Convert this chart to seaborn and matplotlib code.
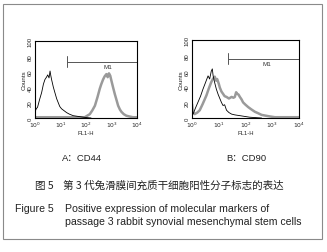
import numpy as np
import pandas as pd
import matplotlib
matplotlib.use("Agg")
import matplotlib.pyplot as plt
import seaborn as sns
from matplotlib.patches import Rectangle
from matplotlib.ticker import LogLocator, NullFormatter, MultipleLocator

sns.set_style("white")
plt.rcParams['font.family'] = ['Liberation Sans', 'Noto Sans CJK SC', 'DejaVu Sans']

# ---- data (log10 of FL1-H, counts) ----
a_iso_logx = [0.0, 0.05, 0.1, 0.18, 0.26, 0.33, 0.39, 0.45, 0.5, 0.55, 0.59, 0.62, 0.65, 0.72,
              0.78, 0.85, 0.91, 0.97, 1.04, 1.12, 1.24, 1.35, 1.5, 1.7, 1.9, 2.2]
a_iso_cnt = [8, 12, 14, 24, 33, 44, 50, 53, 56, 52, 61, 55, 50, 40, 33, 25, 20, 15, 12, 10, 7, 5,
             3, 2, 1, 0]
a_pos_logx = [0.0, 0.5, 1.0, 1.5, 1.95, 2.05, 2.15, 2.25, 2.35, 2.45, 2.54, 2.6, 2.67, 2.73, 2.8,
              2.85, 2.9, 2.95, 3.0, 3.06, 3.13, 3.2, 3.26, 3.33, 3.39, 3.48, 3.58, 3.7, 3.84, 4.0]
a_pos_cnt = [1, 1, 1, 1, 1, 3, 5, 10, 16, 27, 38, 44, 50, 54, 57, 53, 58, 55, 48, 40, 31, 23, 16,
             11, 8, 5, 3, 2, 1, 1]

b_iso_logx = [0.04, 0.12, 0.22, 0.32, 0.41, 0.5, 0.6, 0.66, 0.72, 0.76, 0.79, 0.85, 0.91, 0.98,
              1.04, 1.1, 1.16, 1.22, 1.29, 1.38, 1.48, 1.6, 1.79, 2.16, 2.6]
b_iso_cnt = [5, 12, 20, 28, 37, 45, 54, 50, 60, 63, 54, 45, 37, 30, 25, 20, 16, 17, 10, 7, 5, 4, 3,
             1, 0]
b_pos_logx = [0.0, 0.03, 0.1, 0.2, 0.29, 0.4, 0.54, 0.63, 0.72, 0.78, 0.85, 0.9, 0.94, 1.0, 1.04,
              1.1, 1.16, 1.22, 1.29, 1.38, 1.48, 1.55, 1.6, 1.65, 1.69, 1.74, 1.79, 1.85, 1.91,
              2.0, 2.1, 2.22, 2.35, 2.48, 2.6, 2.75, 2.91, 3.1, 3.41, 4.0]
b_pos_cnt = [18, 8, 5, 7, 10, 18, 29, 38, 46, 50, 53, 48, 50, 44, 39, 34, 31, 28, 27, 25, 27, 26,
             27, 33, 31, 30, 27, 24, 20, 17, 14, 11, 8, 6, 4, 3, 2, 1, 1, 1]

marker_a = (1.25, 4.0, 73)   # M1 gate: start, end (log10), height
marker_b = (1.35, 4.0, 76)
panel_labels = ["A：CD44", "B：CD90"]
x_ticks = [0, 1, 2, 3, 4]
y_ticks = [0, 20, 40, 60, 80, 100]

fig = plt.figure(figsize=(3.27, 2.53), dpi=100)
fig.patch.set_facecolor("white")
fig.patches.append(Rectangle((3 / 327, 1 - 240 / 253), 319 / 327, 235 / 253,
                             transform=fig.transFigure, fill=False,
                             edgecolor="#8a8a8a", linewidth=0.8))

def panel(rect, iso_x, iso_y, pos_x, pos_y, marker, label_x):
    ax = fig.add_axes(rect)
    df_iso = pd.DataFrame({"x": np.power(10.0, iso_x), "y": iso_y})
    df_pos = pd.DataFrame({"x": np.power(10.0, pos_x), "y": pos_y})
    sns.lineplot(data=df_pos, x="x", y="y", ax=ax, color="#9a9a9a", linewidth=1.8, sort=False)
    sns.lineplot(data=df_iso, x="x", y="y", ax=ax, color="black", linewidth=0.6, sort=False)
    ax.set_xscale("log")
    ax.set_xlim(1, 1e4)
    ax.set_ylim(0, 100)
    ax.set_xticks([10.0 ** t for t in x_ticks])
    ax.set_xticklabels([f"$10^{t}$" for t in x_ticks])
    ax.xaxis.set_minor_locator(LogLocator(base=10, subs=np.arange(2, 10)))
    ax.xaxis.set_minor_formatter(NullFormatter())
    ax.set_yticks(y_ticks)
    ax.yaxis.set_minor_locator(MultipleLocator(5))
    ax.tick_params(axis="both", which="major", direction="in", length=2.5, width=0.6,
                   labelsize=4.3, pad=1.5)
    ax.tick_params(axis="both", which="minor", direction="in", length=1.3, width=0.5)
    for lbl in ax.get_yticklabels():
        lbl.set_rotation(90)
        lbl.set_va("center")
    ax.set_xlabel("FL1-H", fontsize=4.2, labelpad=0.5)
    ax.set_ylabel("Counts", fontsize=4.5, labelpad=1)
    for s in ax.spines.values():
        s.set_linewidth(0.8)
        s.set_color("black")
    s0, s1, h = marker
    ax.plot([10 ** s0, 10 ** s1], [h, h], color="#555555", linewidth=0.7)
    ax.plot([10 ** s0, 10 ** s0], [h - 7, h + 7], color="#555555", linewidth=0.7)
    ax.text(10 ** label_x, h - 3, "M1", fontsize=4.5, ha="center", va="top", color="#333333")
    return ax

panel([35 / 327, 1 - 119 / 253, 102 / 327, 77 / 253], a_iso_logx, a_iso_cnt,
      a_pos_logx, a_pos_cnt, marker_a, 2.86)
panel([192 / 327, 1 - 119 / 253, 107 / 327, 78 / 253], b_iso_logx, b_iso_cnt,
      b_pos_logx, b_pos_cnt, marker_b, 2.8)

def ft(x, y, s, **kw):
    fig.text(x / 327, 1 - y / 253, s, va="center", color="#222222", **kw)

ft(82, 158, panel_labels[0], fontsize=6.8, ha="center")
ft(246, 158, panel_labels[1], fontsize=6.8, ha="center")
ft(35, 186, "图 5", fontsize=7.6, ha="left", family=['Noto Sans CJK SC', 'DejaVu Sans'])
ft(63, 186, "第 3 代兔滑膜间充质干细胞阳性分子标志的表达", fontsize=7.6, ha="left",
   family=['Noto Sans CJK SC', 'DejaVu Sans'])
ft(15, 209, "Figure 5", fontsize=7.6, ha="left")
ft(65, 209, "Positive expression of molecular markers of", fontsize=7.6, ha="left")
ft(65, 222, "passage 3 rabbit synovial mesenchymal stem cells", fontsize=7.6, ha="left")

fig.savefig("out.png", dpi=100)
